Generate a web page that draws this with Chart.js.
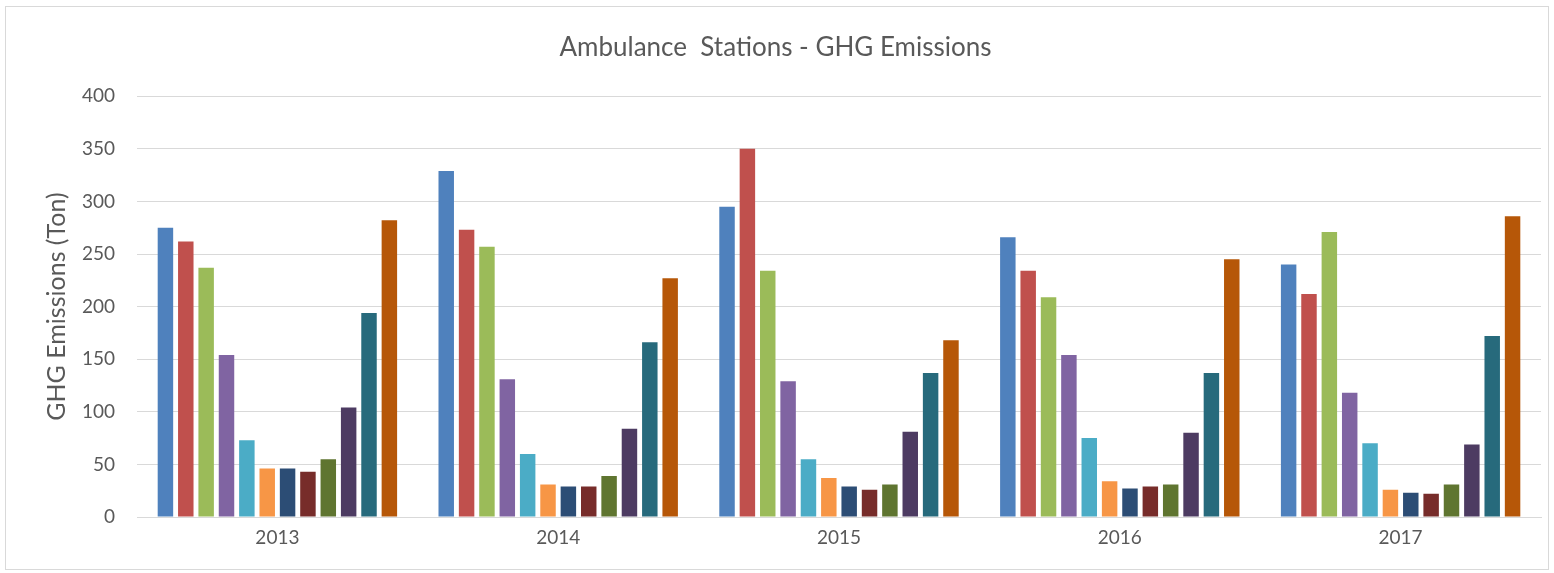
<!DOCTYPE html>
<html>
<head>
<meta charset="utf-8">
<script src="https://cdn.jsdelivr.net/npm/chart.js@4/dist/chart.umd.min.js"></script>
<style>
  html, body { margin: 0; padding: 0; background: #fff; }
  #wrap { position: relative; width: 1554px; height: 573px; }
  #frame { position: absolute; left: 5px; top: 6px; width: 1542px; height: 562px; border: 1px solid #d9d9d9; pointer-events: none; }
</style>
</head>
<body>
<div id="wrap">
  <canvas id="ghgChart" width="1554" height="573"></canvas>
  <div id="frame"></div>
</div>
<script>
const years = ["2013", "2014", "2015", "2016", "2017"];
const stations = ["Station 1", "Station 2", "Station 3", "Station 4", "Station 5", "Station 6",
  "Station 7", "Station 8", "Station 9", "Station 10", "Station 11", "Station 12"];

// one array per station, values for 2013..2017
const station1 = [275, 329, 295, 266, 240];
const station2 = [262, 273, 350, 234, 212];
const station3 = [237, 257, 234, 209, 271];
const station4 = [154, 131, 129, 154, 118];
const station5 = [73, 60, 55, 75, 70];
const station6 = [46, 31, 37, 34, 26];
const station7 = [46, 29, 29, 27, 23];
const station8 = [43, 29, 26, 29, 22];
const station9 = [55, 39, 31, 31, 31];
const station10 = [104, 84, 81, 80, 69];
const station11 = [194, 166, 137, 137, 172];
const station12 = [282, 227, 168, 245, 286];

const values = [station1, station2, station3, station4, station5, station6,
  station7, station8, station9, station10, station11, station12];

const colors = ["#4f81bd", "#c0504d", "#9bbb59", "#8064a2", "#4bacc6", "#f79646",
  "#2c4d75", "#772c2a", "#5f7530", "#4d3b62", "#276a7c", "#b65708"];

const yTicks = [0, 50, 100, 150, 200, 250, 300, 350, 400];

const textColor = "#595959";
const gridColor = "#d9d9d9";
const font = "Lato, 'Open Sans', sans-serif";

new Chart(document.getElementById("ghgChart"), {
  type: "bar",
  data: {
    labels: years,
    datasets: stations.map((name, i) => ({
      label: name,
      data: values[i],
      backgroundColor: colors[i],
      borderWidth: 0,
      categoryPercentage: 0.87,
      barPercentage: 0.76
    }))
  },
  options: {
    responsive: false,
    animation: false,
    layout: { padding: { left: 10, right: 13, top: 30, bottom: 16 } },
    plugins: {
      legend: { display: false },
      tooltip: { enabled: false },
      title: {
        display: true,
        text: "Ambulance  Stations - GHG Emissions",
        color: textColor,
        font: { family: font, size: 26, weight: "normal" },
        padding: { top: 2, bottom: 33 }
      }
    },
    scales: {
      x: {
        grid: { display: false, drawTicks: false },
        border: { display: true, color: gridColor, width: 1 },
        ticks: { color: textColor, font: { family: font, size: 19 }, padding: 9 },
        afterFit: s => { s.height = 40; }
      },
      y: {
        min: 0,
        max: 400,
        afterBuildTicks: s => { s.ticks = yTicks.map(v => ({ value: v })); },
        grid: { color: gridColor, drawTicks: false },
        border: { display: false },
        ticks: { color: textColor, font: { family: font, size: 19 }, padding: 22 },
        title: {
          display: true,
          text: "GHG Emissions (Ton)",
          color: textColor,
          font: { family: font, size: 25 },
          padding: { top: 32, bottom: 0 }
        },
        afterFit: s => { s.width = 127; }
      }
    }
  }
});
</script>
</body>
</html>
